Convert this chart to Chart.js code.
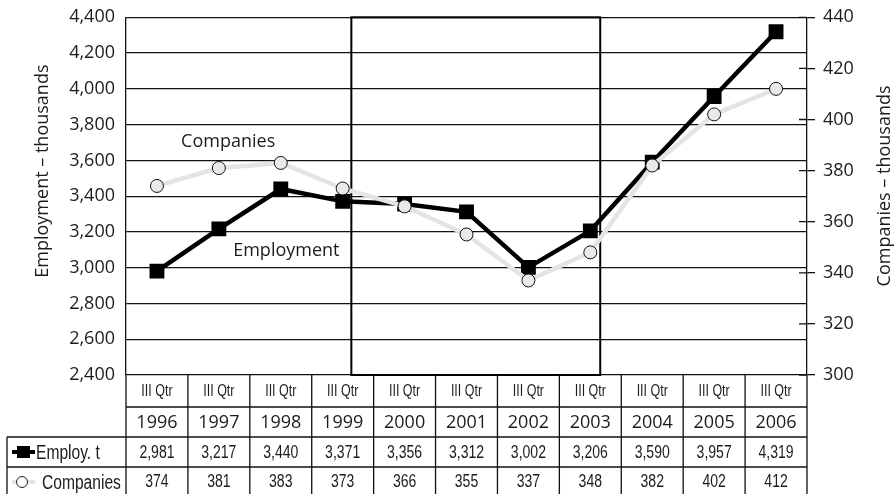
<!DOCTYPE html>
<html>
<head>
<meta charset="utf-8">
<title>Employment and companies</title>
<script src="https://cdn.jsdelivr.net/npm/chart.js"></script>
<style>
  html, body { margin: 0; padding: 0; background: #fff; }
  #wrap { width: 896px; height: 494px; position: relative; }
</style>
</head>
<body>
<div id="wrap"><canvas id="empChart"></canvas></div>
<script>
const years = ['1996', '1997', '1998', '1999', '2000', '2001', '2002', '2003', '2004', '2005', '2006'];
const quarters = ['III Qtr', 'III Qtr', 'III Qtr', 'III Qtr', 'III Qtr', 'III Qtr', 'III Qtr', 'III Qtr', 'III Qtr', 'III Qtr', 'III Qtr'];
const employment = [2981, 3217, 3440, 3371, 3356, 3312, 3002, 3206, 3590, 3957, 4319];
const companies = [374, 381, 383, 373, 366, 355, 337, 348, 382, 402, 412];

const INK = '#1c1c1c';
const SANS = '"Open Sans", sans-serif';
const PLAIN = '"Liberation Sans", Arial, sans-serif';

// framed period 2000-2003, in category units
const framedFrom = 3.14;
const framedTo = 7.16;

// condensed text: plain sans squeezed horizontally
function narrowText(ctx, text, px, py, size, align) {
    const squeeze = 0.78;
    ctx.save();
    ctx.font = size + 'px ' + PLAIN;
    ctx.textAlign = align;
    ctx.translate(px, py);
    ctx.scale(squeeze, 1);
    ctx.fillText(text, 0, 0);
    ctx.restore();
}

// vertical title reading bottom to top
function sideTitle(ctx, text, px, py) {
    ctx.save();
    ctx.font = '18px ' + SANS;
    ctx.textAlign = 'center';
    ctx.textBaseline = 'middle';
    ctx.translate(px, py);
    ctx.rotate(-Math.PI / 2);
    ctx.fillText(text, 0, 0);
    ctx.restore();
}

// data table under the plot + axis titles + series notes
const tablePlugin = {
    id: 'tablePlugin',
    beforeDatasetsDraw(chart) {
        const ctx = chart.ctx;
        const x = chart.scales.x;
        const area = chart.chartArea;
        ctx.save();
        ctx.strokeStyle = '#000';
        ctx.lineWidth = 2;
        const x0 = x.getPixelForValue(framedFrom);
        const x1 = x.getPixelForValue(framedTo);
        ctx.strokeRect(x0, area.top, x1 - x0, area.bottom - area.top);
        ctx.restore();
    },
    afterDraw(chart) {
        const ctx = chart.ctx;
        const x = chart.scales.x;
        const y = chart.scales.y;
        const y1 = chart.scales.y1;
        const area = chart.chartArea;
        const colW = x.getPixelForValue(1) - x.getPixelForValue(0);
        const rowTop = [area.bottom, area.bottom + 32, area.bottom + 62, area.bottom + 92, area.bottom + 122];
        const labelLeft = 7;

        ctx.save();
        ctx.strokeStyle = '#111';
        ctx.lineWidth = 1.3;

        // horizontal rules
        ctx.beginPath();
        ctx.moveTo(area.left, rowTop[1]); ctx.lineTo(area.right, rowTop[1]);
        ctx.moveTo(labelLeft, rowTop[2]); ctx.lineTo(area.right, rowTop[2]);
        ctx.moveTo(labelLeft, rowTop[3]); ctx.lineTo(area.right, rowTop[3]);
        // vertical rules
        for (let i = 0; i <= years.length; i++) {
            const px = area.left + i * colW;
            ctx.moveTo(px, rowTop[0]); ctx.lineTo(px, rowTop[4]);
        }
        ctx.moveTo(labelLeft, rowTop[2]); ctx.lineTo(labelLeft, rowTop[4]);
        ctx.stroke();

        // inner half of the right axis ticks
        ctx.beginPath();
        y1.ticks.forEach(t => {
            const py = y1.getPixelForValue(t.value);
            ctx.moveTo(area.right - 8, py); ctx.lineTo(area.right, py);
        });
        ctx.stroke();

        ctx.fillStyle = INK;
        ctx.textBaseline = 'middle';
        years.forEach((yr, i) => {
            const cx = x.getPixelForValue(i);
            narrowText(ctx, quarters[i], cx, (rowTop[0] + rowTop[1]) / 2 + 1, 16, 'center');
            ctx.font = '18px ' + SANS;
            ctx.textAlign = 'center';
            ctx.fillText(yr, cx, (rowTop[1] + rowTop[2]) / 2 + 1);
            narrowText(ctx, employment[i].toLocaleString('en-US'), cx, (rowTop[2] + rowTop[3]) / 2 + 1, 18, 'center');
            narrowText(ctx, String(companies[i]), cx, rowTop[3] + 15, 18, 'center');
        });

        // row keys
        const k1 = (rowTop[2] + rowTop[3]) / 2;
        const k2 = rowTop[3] + 15;
        ctx.strokeStyle = '#000';
        ctx.lineWidth = 4;
        ctx.beginPath(); ctx.moveTo(12, k1); ctx.lineTo(35, k1); ctx.stroke();
        ctx.fillStyle = '#000';
        ctx.fillRect(17, k1 - 6, 13, 12);
        ctx.strokeStyle = '#e4e4e4';
        ctx.beginPath(); ctx.moveTo(12, k2); ctx.lineTo(35, k2); ctx.stroke();
        ctx.beginPath(); ctx.arc(22, k2, 5.5, 0, Math.PI * 2);
        ctx.fillStyle = '#fff'; ctx.fill();
        ctx.strokeStyle = '#222'; ctx.lineWidth = 1; ctx.stroke();
        ctx.fillStyle = INK;
        narrowText(ctx, 'Employ. t', 36, k1 + 1, 20, 'left');
        narrowText(ctx, 'Companies', 42, k2 + 1, 20, 'left');

        // series notes
        ctx.textAlign = 'center';
        ctx.font = '18px ' + SANS;
        ctx.fillText('Companies', x.getPixelForValue(1.15), y1.getPixelForValue(391.4));
        ctx.fillText('Employment', x.getPixelForValue(2.09), y.getPixelForValue(3094));

        // axis titles
        sideTitle(ctx, 'Employment – thousands', 43, y.getPixelForValue(3540));
        sideTitle(ctx, 'Companies – thousands', 885, y1.getPixelForValue(374));
        ctx.restore();
    }
};

new Chart(document.getElementById('empChart'), {
    type: 'line',
    data: {
        labels: years,
        datasets: [
            {
                label: 'Companies',
                data: companies,
                yAxisID: 'y1',
                borderColor: '#e4e4e4',
                borderWidth: 4.5,
                pointStyle: 'circle',
                pointRadius: 6.5,
                pointBackgroundColor: '#e9e9e9',
                pointBorderColor: '#111',
                pointBorderWidth: 1
            },
            {
                label: 'Employment',
                data: employment,
                yAxisID: 'y',
                borderColor: '#000',
                borderWidth: 4.5,
                pointStyle: 'rect',
                pointRadius: 10.5,
                pointBackgroundColor: '#000',
                pointBorderColor: '#000',
                pointBorderWidth: 0
            }
        ]
    },
    options: {
        responsive: true,
        maintainAspectRatio: false,
        animation: false,
        layout: { padding: { top: 15, bottom: 119, left: 0, right: 0 } },
        plugins: {
            legend: { display: false },
            tooltip: { enabled: false }
        },
        scales: {
            x: {
                display: false,
                offset: true
            },
            y: {
                position: 'left',
                min: 2400,
                max: 4400,
                afterFit: s => { s.width = 126; },
                ticks: { stepSize: 200, padding: 11, color: INK, font: { family: SANS, size: 18, lineHeight: 0.7 } },
                grid: { color: '#111', lineWidth: 1.3, drawTicks: false },
                border: { display: true, color: '#111', width: 1.3 }
            },
            y1: {
                position: 'right',
                min: 300,
                max: 440,
                afterFit: s => { s.width = 89; },
                ticks: { stepSize: 20, padding: 8, color: INK, font: { family: SANS, size: 18, lineHeight: 0.7 } },
                grid: { drawOnChartArea: false, color: '#111', lineWidth: 1.3, tickLength: 8 },
                border: { display: true, color: '#111', width: 1.3 }
            }
        }
    },
    plugins: [tablePlugin]
});
</script>
</body>
</html>
